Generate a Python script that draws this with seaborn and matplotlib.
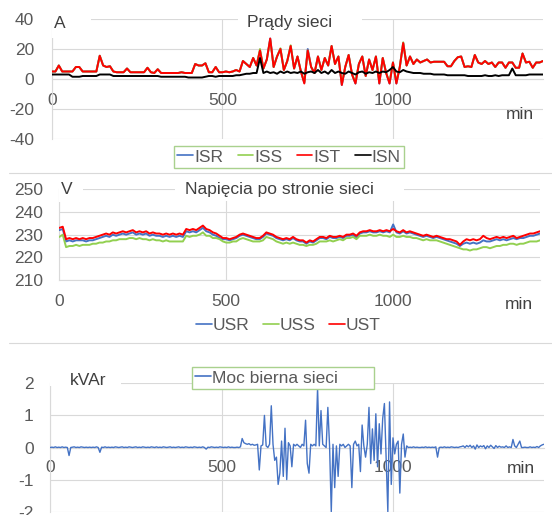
import numpy as np
import pandas as pd
import matplotlib.pyplot as plt
from matplotlib.lines import Line2D
from matplotlib.patches import Rectangle
import seaborn as sns

sns.set_style("white")
plt.rcParams['font.family'] = ['Liberation Sans', 'DejaVu Sans']
plt.rcParams['font.size'] = 12.5
plt.rcParams['axes.unicode_minus'] = False

# ============================================
# Data (minutes 0..1440)
# ============================================

minutes_10 = np.arange(0, 1441, 10)
minutes_5 = np.arange(0, 1441, 5)

# currents [A], 10 min steps
ist = [5, 5, 9, 5, 5, 5, 5, 8, 8, 5, 5, 5,
       5, 5, 15.5, 9, 8, 8.5, 5, 4.5, 4.5, 4.5, 7, 4.5,
       4.5, 4.5, 4.5, 4.5, 7.5, 4.5, 4, 6.5, 4, 4, 4, 4,
       4, 4, 4.5, 4, 4, 4, 10, 9, 9, 10.5, 4.5, 4.5,
       8, 4.5, 4.5, 5, 4.5, 5, 6, 5, 12, 10, 8, 14,
       9, 19, 7, 13, 27, 8, 15, 20, 6, 12, 22, 7,
       15, 5, -3, 19, 8, 4, 15, 6, 14, 9, 22, 10,
       15, -4, 8, 16, 3, -3, 10, 15, 2, 13, 6, 15,
       -3, 14, 4, -3, 11, -3, 8, 24, 9, 15, 10, 13,
       11, 12, 13, 11, 11.5, 11.5, 11.5, 11.5, 8.5, 8.5, 12, 14.5,
       15, 8, 8.5, 8, 16, 11, 10, 12, 10, 11, 8, 11,
       11, 7.5, 11, 11, 7.5, 7.5, 17, 11, 11.5, 7.5, 11, 11,
       12]

iss = [5, 5, 9, 5, 5, 5, 5, 8, 8, 5, 5, 5,
       5, 5, 15.5, 9, 8, 8.5, 5, 4.5, 4.5, 4.5, 7, 4.5,
       4.5, 4.5, 4.5, 4.5, 7.5, 4.5, 4, 6.5, 4, 4, 4, 4,
       4, 4, 4.5, 4, 4, 4, 10, 9, 9, 10.5, 4.5, 4.5,
       8, 4.5, 4.5, 5, 4.5, 5, 6, 5, 12, 10, 8, 14,
       9, 20, 7, 13, 26, 8, 15, 20.5, 6, 12, 22.5, 7,
       15, 5, -2, 19, 8, 4, 15, 6, 14, 9, 22, 10,
       15, -3, 8, 16, 3, -2, 10, 15, 2, 13, 6, 15,
       -2, 14, 4, -2, 11, -2, 8, 24.5, 9, 15, 10, 13,
       11, 12, 13, 11, 11.5, 11.5, 11.5, 11.5, 8.5, 8.5, 12, 14.5,
       15, 8, 8.5, 8, 16, 11, 10, 12, 10, 11, 8, 11,
       11, 7.5, 11, 11, 7.5, 7.5, 17, 11, 11.5, 7.5, 11, 11,
       12]

isr = [5, 5, 9, 5, 5, 5, 5, 8, 8, 5, 5, 5,
       5, 5, 15.5, 9, 8, 8.5, 5, 4.5, 4.5, 4.5, 7, 4.5,
       4.5, 4.5, 4.5, 4.5, 7.5, 4.5, 4, 6.5, 4, 4, 4, 4,
       4, 4, 4.5, 4, 4, 4, 10, 9, 9, 10.5, 4.5, 4.5,
       8, 4.5, 4.5, 5, 4.5, 5, 6, 5, 12, 10, 8, 14,
       9, 19, 7, 13, 27, 8, 15, 20, 6, 12, 22, 7,
       15, 5, -2.5, 20, 8, 4, 15, 6, 14, 9, 22, 10,
       15, -4, 8, 16, 3, -3, 10, 15, 2, 13, 6, 15,
       -3, 14, 4, -3, 11, -3, 8, 24, 9, 15, 10, 13,
       11, 12, 13, 11, 11.5, 11.5, 11.5, 11.5, 8.5, 8.5, 12, 14.5,
       15, 8, 8.5, 8, 16, 11, 10, 12, 10, 11, 8, 11,
       11, 7.5, 11, 11, 7.5, 7.5, 17, 11, 11.5, 7.5, 11, 11,
       12]

isn = [3, 3, 3, 3, 3, 3, 1.5, 1.5, 1.5, 2, 2, 2,
       2, 2, 3, 3, 3, 3, 2, 2, 2, 2, 2, 2,
       2, 2, 2, 2, 2, 2, 2, 2, 1.5, 1.5, 1.5, 1.5,
       1.5, 1.5, 1.5, 1.5, 1, 1, 1, 1, 1, 1.5, 2, 2,
       1.5, 2, 2, 2, 2, 2, 2.5, 2.5, 3, 3.5, 3.5, 4,
       4, 14, 4, 5, 4, 4.5, 3.5, 5, 4, 5, 4, 4.5,
       4, 5, 3.5, 4.5, 5, 4, 6, 4, 5, 3.5, 6, 4,
       5, 4, 3.5, 5, 4, 3, 4.5, 5, 3.5, 4.5, 4, 5,
       4, 5, 4.5, 6, 8, 5, 4.5, 6, 5, 4.5, 4, 4,
       4, 3.5, 3.5, 3.5, 3, 3, 3, 3, 2.5, 2.5, 2.5, 2.5,
       2.5, 2.5, 2, 2, 2, 2, 2, 2.5, 2, 2, 2.5, 2,
       2.5, 2.5, 2.5, 7, 2.5, 2.5, 2.5, 2.5, 3, 3, 3, 3,
       3]

# voltages [V], 10 min steps
ust = [233, 233.5, 228, 228.5, 228, 228.5, 228, 228.5, 228, 228.5, 228.5, 229,
       229.5, 230, 230.5, 230, 231, 230.5, 231, 231.5, 231, 231.5, 232, 231,
       231.5, 231, 231.5, 230.5, 231, 230.5, 230.5, 230, 230.5, 230, 230.5, 230,
       230.5, 230, 232.5, 232, 232.5, 232, 233, 234, 232.5, 232, 231, 230.5,
       229.5, 228.5, 228.5, 228, 228.5, 229, 230, 230.5, 230, 229.5, 229, 228.5,
       228.5, 229.5, 231, 230.5, 230, 229, 228.5, 228, 228.5, 228, 229, 228,
       227.5, 227.5, 226.5, 227.5, 227, 228, 229, 229, 228.5, 229.5, 229, 229,
       229.5, 229, 230, 230, 230.5, 229.5, 231, 231.5, 231.5, 232, 231.5, 231.5,
       232, 231.5, 232, 231.5, 232.5, 231.5, 231, 232, 231, 231.5, 231, 230.5,
       230, 229.5, 230, 229.5, 229, 229.5, 229, 228.5, 228, 228, 227.5, 227,
       225.5, 227, 228, 227.5, 228, 227.5, 228, 229.5, 228.5, 228, 228.5, 229,
       228.5, 229, 228.5, 229, 229.5, 228.5, 229, 229.5, 230, 230.5, 230.5, 231,
       231.5]

usr = [232, 232.5, 227, 227.5, 227, 227.5, 227.5, 227.5, 227, 227.5, 227.5, 228,
       228.5, 229, 229.5, 229, 230, 229.5, 230, 230.5, 230, 230.5, 231, 230,
       230.5, 230, 230.5, 229.5, 230, 229.5, 229.5, 229, 229.5, 229, 229.5, 229,
       229.5, 229, 231.5, 231, 231.5, 231, 232, 233, 231.5, 231, 230, 229.5,
       228.5, 228, 228, 227.5, 228, 228.5, 229.5, 230, 229.5, 229, 228.5, 228,
       228, 229, 230.5, 230, 229.5, 228.5, 228, 227.5, 228, 227.5, 228.5, 227.5,
       227, 227, 226, 227, 226.5, 227.5, 228.5, 228.5, 228, 229, 228.5, 228.5,
       229, 228.5, 229.5, 229.5, 230, 228.5, 230.5, 231, 231, 231.5, 231, 231,
       231.5, 231, 231.5, 231, 234.5, 231, 230.5, 231.5, 230.5, 231, 230.5, 230,
       229.5, 229, 229.5, 229, 228.5, 229, 228.5, 228, 227.5, 227, 226.5, 226,
       225, 226, 226.5, 226, 226.5, 226, 226.5, 227.5, 227, 227, 227.5, 228,
       227.5, 228, 227.5, 228, 228.5, 228, 228.5, 228.5, 229, 229.5, 229.5, 230,
       230.5]

uss = [229, 230, 224.5, 225, 225, 225.5, 225, 225.5, 225.5, 225.5, 226, 226,
       226.5, 226.5, 227, 227, 227.5, 227.5, 228, 228, 228, 228.5, 228.5, 228,
       228.5, 228, 228, 227.5, 228, 227.5, 227.5, 227, 227.5, 227, 227, 227,
       227, 227, 229.5, 229, 229.5, 229.5, 230, 231, 229.5, 229.5, 228.5, 228.5,
       228, 227, 226.5, 226.5, 227, 227, 228, 228.5, 228, 227.5, 227, 227,
       227, 227.5, 229, 228.5, 228, 227, 226.5, 226, 226.5, 226, 226.5, 226,
       225.5, 225.5, 225, 225.5, 225.5, 226, 227, 227, 227, 227.5, 227, 227.5,
       228, 227.5, 228.5, 228.5, 229, 228, 229.5, 229.5, 229.5, 230, 229.5, 229.5,
       230, 229.5, 229.5, 229, 230, 229, 229, 229.5, 229, 229, 228.5, 228.5,
       228, 227.5, 228, 227.5, 227.5, 227.5, 227, 226.5, 226, 225.5, 225, 224.5,
       224, 223.5, 223.5, 223, 223.5, 223.5, 224, 224.5, 224.5, 224, 224.5, 225,
       225, 225.5, 225.5, 226, 226, 225.5, 226, 226, 226.5, 227, 227, 227,
       227.5]

# reactive power [kVAr], 5 min steps
q_net = [0.0, 0.01, 0.0, 0.02, 0.0, 0.01, 0.0, 0.02, 0.0, 0.01, 0.0, -0.25,
         0.0, 0.01, 0.02, 0.0, 0.01, 0.0, 0.02, 0.01, 0.0, 0.01, 0.0, 0.01,
         0.0, 0.01, 0.0, 0.02, 0.0, -0.15, 0.01, 0.0, 0.02, 0.0, 0.01, 0.0,
         0.01, 0.0, 0.02, 0.01, 0.0, 0.01, 0.02, 0.0, 0.01, 0.0, 0.02, 0.01,
         0.0, 0.01, 0.02, 0.0, 0.01, 0.0, 0.02, 0.01, 0.0, 0.01, 0.0, 0.02,
         0.01, 0.0, 0.02, 0.0, 0.01, 0.0, 0.02, 0.01, 0.0, 0.01, 0.02, 0.0,
         0.01, 0.0, 0.01, 0.02, 0.0, 0.01, 0.0, 0.02, 0.01, 0.0, 0.01, 0.0,
         0.02, 0.01, 0.0, 0.01, 0.0, 0.02, 0.0, -0.05, 0.01, 0.0, 0.02, 0.01,
         0.0, 0.01, 0.0, 0.02, 0.01, 0.0, 0.01, 0.0, 0.02, 0.0, 0.01, 0.0,
         0.0, 0.01, 0.0, 0.02, 0.28, 0.15, 0.12, 0.1, 0.12, 0.08, 0.1, 0.07,
         0.08, 0.1, -0.7, 0.05, 0.08, 1.0, 0.05, 0.0, 0.1, 1.3, 0.1, -0.4,
         -0.3, -1.15, -0.8, 0.2, -0.9, 0.6, -1.0, 0.15, 0.05, -0.6, 0.1, 0.05,
         0.1, 0.05, 0.0, 0.1, 0.05, 0.85, -0.5, -0.8, 0.1, 0.05, 0.1, 0.05,
         1.85, 0.05, 1.15, 0.1, 0.05, 0.0, 1.25, 0.05, -2.0, 0.1, -1.25, 0.05,
         -0.9, 0.1, 0.05, 0.1, 0.0, 0.05, 0.1, 0.05, -1.25, 0.1, 0.2, 0.05,
         0.1, -0.75, 0.7, 0.05, -0.3, 0.1, 1.25, -0.5, 0.58, -0.4, 1.05, -0.6,
         0.74, -0.2, 0.9, 1.37, -0.3, -2.0, 1.42, -1.15, 0.3, -0.2, 0.1, 0.2,
         -1.42, 0.1, 0.42, -0.3, 0.05, 0.0, 0.01, 0.0, 0.02, 0.0, 0.01, 0.0,
         0.0, 0.01, 0.0, 0.02, 0.0, 0.01, 0.0, 0.01, 0.0, 0.02, -0.3, 0.0,
         0.01, 0.0, 0.02, 0.0, 0.01, 0.0, 0.02, 0.01, 0.0, 0.01, 0.0, 0.02,
         0.03, 0.05, 0.0, 0.06, 0.02, 0.07, 0.0, 0.05, -0.05, 0.08, 0.0, 0.05,
         0.02, 0.06, -0.04, 0.05, 0.0, 0.07, 0.02, -0.03, 0.06, 0.0, 0.04, 0.01,
         0.02, 0.0, 0.05, 0.0, 0.02, 0.0, 0.25, 0.05, 0.0, 0.1, 0.2, 0.0,
         0.0, 0.01, 0.0, 0.0, 0.02, 0.0, 0.01, 0.0, 0.03, 0.0, 0.05, 0.08,
         0.1]

current_names = ['ISR', 'ISS', 'IST', 'ISN']
voltage_names = ['USR', 'USS', 'UST']
q_name = 'Moc bierna sieci'

BLUE, GREEN, RED, BLACK = '#4472C4', '#92D050', '#FF0000', '#000000'
GRID = '#D9D9D9'
TICK = '#595959'
TEXT = '#404040'
LEG_EDGE = '#A9D18E'
FS = 12.5

W, H = 552, 515


def long_table(minutes, series):
    parts = [pd.DataFrame({'min': minutes, 'val': vals, 'name': name})
             for name, vals in series.items()]
    return pd.concat(parts, ignore_index=True)


df_i = long_table(minutes_10, dict(zip(current_names, [isr, iss, ist, isn])))
df_u = long_table(minutes_10, dict(zip(voltage_names, [usr, uss, ust])))
df_q = long_table(minutes_5, {q_name: q_net})

fig = plt.figure(figsize=(W / 100, H / 100), dpi=100)


def px_axes(x0, y0, x1, y1):
    return fig.add_axes([x0 / W, 1 - y1 / H, (x1 - x0) / W, (y1 - y0) / H])


def style(ax, ylim, yticks, xpad, ypad, zero_axis):
    ax.set_xlim(0, 1440)
    ax.set_ylim(*ylim)
    ax.set_xticks([0, 500, 1000])
    ax.set_yticks(yticks)
    ax.set_xlabel('')
    ax.set_ylabel('')
    ax.grid(True, color=GRID, lw=0.8)
    ax.set_axisbelow(True)
    for s in ['top', 'right']:
        ax.spines[s].set_visible(False)
    for s in ['left', 'bottom']:
        ax.spines[s].set_color(GRID)
        ax.spines[s].set_linewidth(0.8)
        ax.spines[s].set_zorder(0.6)
    if zero_axis:
        ax.spines['bottom'].set_position(('data', 0))
    ax.tick_params(axis='x', length=0, colors=TICK, labelsize=FS, pad=xpad)
    ax.tick_params(axis='y', length=0, colors=TICK, labelsize=FS, pad=ypad)


def white_box(ax, x0, y0, x1, y1):
    ax.add_patch(Rectangle((x0, y0), x1 - x0, y1 - y0, transform=ax.transAxes,
                           facecolor='white', edgecolor='none',
                           clip_on=False, zorder=1))


def make_legend(ax, names, colors, box, frame):
    x0, y0, x1, y1 = box
    handles = [Line2D([], [], color=c, lw=1.2) for c in colors]
    leg = ax.legend(handles, names, loc='center', mode='expand', ncol=len(names),
                    bbox_to_anchor=(x0 / W, 1 - y1 / H, (x1 - x0) / W, (y1 - y0) / H),
                    bbox_transform=fig.transFigure, frameon=frame, fancybox=False,
                    edgecolor=LEG_EDGE, framealpha=1, borderpad=0.2,
                    handlelength=0.9, handletextpad=0.05, columnspacing=0.4,
                    fontsize=FS, labelcolor=TICK, borderaxespad=0)
    leg.get_frame().set_linewidth(1.0)
    return leg


# ============================================
# Panel 1: currents
# ============================================
ax1 = px_axes(52, 19, 543, 139)
sns.lineplot(data=df_i, x='min', y='val', hue='name', hue_order=current_names,
             palette=[BLUE, GREEN, RED, BLACK], linewidth=1.4, legend=False, ax=ax1)
style(ax1, (-40, 40), [-40, -20, 0, 20, 40], 10, 13, True)
white_box(ax1, 0, 0.84, 0.079, 1.08)
white_box(ax1, 0.379, 0.9, 0.631, 1.08)
ax1.text(0.004, 0.965, 'A', transform=ax1.transAxes, ha='left', va='center',
         color=TEXT, fontsize=FS, zorder=4)
ax1.text(0.483, 0.975, 'Prądy sieci', transform=ax1.transAxes, ha='center',
         va='center', color=TEXT, fontsize=FS, zorder=4)
ax1.text(0.952, 0.208, 'min', transform=ax1.transAxes, ha='center', va='center',
         color=TEXT, fontsize=FS, zorder=4)
make_legend(ax1, current_names, [BLUE, GREEN, RED, BLACK], (174, 146, 404, 168), True)

# ============================================
# Panel 2: voltages
# ============================================
ax2 = px_axes(59.4, 189.3, 540, 280)
sns.lineplot(data=df_u, x='min', y='val', hue='name', hue_order=voltage_names,
             palette=[BLUE, GREEN, RED], linewidth=1.4, legend=False, ax=ax2)
style(ax2, (210, 250), [210, 220, 230, 240, 250], 10, 12, False)
white_box(ax2, 0, 0.86, 0.05, 1.1)
white_box(ax2, 0.24, 0.87, 0.718, 1.1)
ax2.text(0.003, 0.995, 'V', transform=ax2.transAxes, ha='left', va='center',
         color=TEXT, fontsize=FS, zorder=4)
ax2.text(0.458, 0.995, 'Napięcia po stronie sieci', transform=ax2.transAxes,
         ha='center', va='center', color=TEXT, fontsize=FS, zorder=4)
ax2.text(0.955, -0.265, 'min', transform=ax2.transAxes, ha='center', va='center',
         color=TEXT, fontsize=FS, zorder=4)
make_legend(ax2, voltage_names, [BLUE, GREEN, RED], (193, 314, 384, 336), False)

# ============================================
# Panel 3: reactive power
# ============================================
ax3 = px_axes(50.2, 383.3, 543.8, 511.7)
sns.lineplot(data=df_q, x='min', y='val', hue='name', palette=[BLUE],
             linewidth=1.0, legend=False, ax=ax3)
style(ax3, (-2, 2), [-2, -1, 0, 1, 2], 9, 12, True)
white_box(ax3, 0, 0.98, 0.143, 1.1)
ax3.text(0.039, 1.02, 'kVAr', transform=ax3.transAxes, ha='left', va='center',
         color=TEXT, fontsize=FS, zorder=4)
ax3.text(0.954, 0.34, 'min', transform=ax3.transAxes, ha='center', va='center',
         color=TEXT, fontsize=FS, zorder=4)
make_legend(ax3, [q_name], [BLUE], (192, 364, 374, 392), True)

# chart separators
for y in [172.7, 343.3]:
    fig.add_artist(Line2D([9 / W, 1], [1 - y / H, 1 - y / H], transform=fig.transFigure,
                          color=GRID, lw=0.8))

fig.savefig('out.png', dpi=100)
